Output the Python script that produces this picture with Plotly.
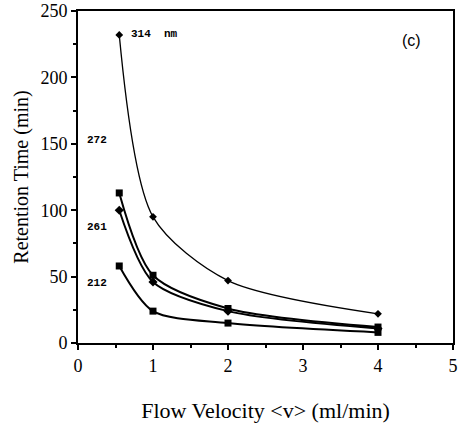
import plotly.graph_objects as go

flow = [0.55, 1, 2, 4]
rt_314 = [232, 95, 47, 22]
rt_272 = [113, 51, 26, 12]
rt_261 = [100, 46, 24, 11]
rt_212 = [58, 24, 15, 8]

series = [
    ("314 nm", rt_314, "diamond", 6, 1.3),
    ("272", rt_272, "square", 7, 2),
    ("261", rt_261, "diamond", 7, 2),
    ("212", rt_212, "square", 7, 2),
]

fig = go.Figure()
for name, ys, sym, sz, lw in series:
    fig.add_trace(go.Scatter(x=flow, y=ys, mode="lines+markers", name=name,
                             line=dict(color="black", width=lw, shape="spline", smoothing=0.8),
                             marker=dict(symbol=sym, size=sz, color="black")))

labels = [
    (0.68, 233, "314  nm", "left"),
    (0.25, 153, "272", "center"),
    (0.25, 87, "261", "center"),
    (0.25, 45, "212", "center"),
]
for x, y, t, anchor in labels:
    fig.add_annotation(x=x, y=y, text="<b>" + t + "</b>", showarrow=False, xanchor=anchor,
                       font=dict(family="Liberation Mono", size=11, color="black"))
fig.add_annotation(x=4.45, y=228, text="(c)", showarrow=False,
                   font=dict(family="Liberation Sans", size=16, color="black"))

serif = "Liberation Serif"
fig.update_layout(
    width=458, height=426,
    margin=dict(l=78, r=5, t=11, b=83),
    paper_bgcolor="white", plot_bgcolor="white",
    showlegend=False,
    font=dict(family=serif, color="black"),
    xaxis=dict(range=[0, 5], tickvals=[0, 1, 2, 3, 4, 5], ticks="outside", ticklen=5,
               tickwidth=1.5, tickcolor="black", ticklabeloverflow="allow", automargin=False,
               showline=True, linecolor="black", linewidth=2, mirror=True,
               showgrid=False, zeroline=False,
               tickfont=dict(size=18, family=serif, color="black"),
               minor=dict(tickvals=[0.5, 1.5, 2.5, 3.5, 4.5], ticks="outside", ticklen=3,
                          tickcolor="black", tickwidth=1.5),
               title=dict(text="Flow Velocity &lt;v&gt; (ml/min)", standoff=28,
                          font=dict(size=22, family=serif, color="black"))),
    yaxis=dict(range=[0, 250], tickvals=[0, 50, 100, 150, 200, 250], ticks="outside", ticklen=5,
               tickwidth=1.5, tickcolor="black", ticklabeloverflow="allow", automargin=False,
               showline=True, linecolor="black", linewidth=2, mirror=True,
               showgrid=False, zeroline=False,
               tickfont=dict(size=18, family=serif, color="black"),
               minor=dict(tickvals=[25, 75, 125, 175, 225], ticks="outside", ticklen=3,
                          tickcolor="black", tickwidth=1.5),
               title=dict(text="Retention Time (min)", standoff=6,
                          font=dict(size=20, family=serif, color="black"))),
)

fig.write_html("out.html")
